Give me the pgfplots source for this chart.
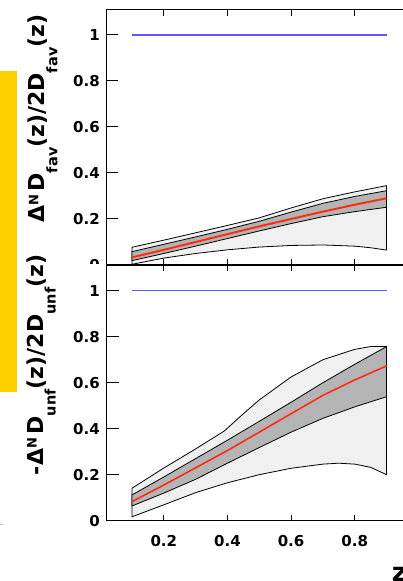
\documentclass[border=0pt]{standalone}
\usepackage{pgfplots}
\pgfplotsset{compat=1.18}
\usepackage{fontspec}
\setmainfont{DejaVu Sans}
\definecolor{goldbar}{RGB}{255,208,0}
\definecolor{lband}{RGB}{240,240,240}
\definecolor{dband}{RGB}{180,180,180}
\definecolor{cred}{RGB}{255,45,20}
\definecolor{cblue}{RGB}{90,90,255}
\newcommand{\labfont}{\fontsize{22}{22}\selectfont\bfseries}
\newcommand{\mysub}[1]{\raisebox{-12.5pt}{\fontsize{14.5}{14}\selectfont\bfseries #1}}
\newcommand{\mysup}[1]{\raisebox{6.5pt}{\fontsize{13}{13}\selectfont\bfseries #1}}
\pgfplotsset{panel/.style={
  scale only axis, width=311.9pt, height=255.3pt,
  xmin=0.02, xmax=1, ymin=0, ymax=1.11,
  xtick={0.2,0.4,0.6,0.8}, ytick={0,0.2,0.4,0.6,0.8,1},
  yticklabels={0,0.2,0.4,0.6,0.8,1},
  tick align=inside,
  major tick length=12pt,
  xtick style={/pgfplots/major tick length=6pt},
  axis line style={line width=1pt},
  every tick/.style={black, line width=1pt},
  tick label style={font=\fontsize{15}{18}\selectfont\bfseries},
  /pgf/number format/assume math mode=true,
  yticklabel style={inner sep=0pt, anchor=east, xshift=-6.5pt},
  xticklabel style={inner sep=0pt, anchor=north, yshift=-14pt},
  clip=false,
}}
\begin{document}
\begin{tikzpicture}
\fill[goldbar] (0pt,189pt) rectangle (17pt,510pt);
\fill[black!25] (0pt,55.5pt) rectangle (3pt,56.5pt);
% top panel
\begin{axis}[panel, at={(106.5pt,316pt)}, anchor=south west,
  xticklabels={},
  ylabel={\labfont Δ\mysup{N}\,D\mysub{fav}(z)/2D\mysub{fav}(z)},
  every axis y label/.style={at={(rel axis cs:0,0.164)}, xshift=-61.5pt, rotate=90, anchor=base west, inner sep=0pt},
]
\addplot[fill=lband, draw=black, line width=0.8pt] coordinates {
 (0.1,0.077) (0.2,0.108) (0.3,0.140) (0.4,0.172) (0.5,0.205) (0.6,0.248) (0.7,0.288) (0.8,0.318) (0.9,0.345)
 (0.9,0.065) (0.85,0.075) (0.8,0.082) (0.7,0.087) (0.6,0.085) (0.5,0.078) (0.4,0.066) (0.3,0.050) (0.2,0.030) (0.1,0.003)
} -- cycle;
\addplot[fill=dband, draw=black, line width=0.8pt] coordinates {
 (0.1,0.058) (0.2,0.090) (0.3,0.122) (0.4,0.155) (0.5,0.190) (0.6,0.230) (0.7,0.268) (0.8,0.298) (0.9,0.323)
 (0.9,0.251) (0.8,0.232) (0.7,0.210) (0.6,0.180) (0.5,0.148) (0.4,0.115) (0.3,0.082) (0.2,0.050) (0.1,0.019)
} -- cycle;
\addplot[cred, line width=2pt] coordinates {
 (0.1,0.033) (0.2,0.066) (0.3,0.100) (0.4,0.134) (0.5,0.168) (0.6,0.200) (0.7,0.232) (0.8,0.262) (0.9,0.290)
};
\addplot[cblue, line width=1.5pt] coordinates {(0.1,1) (0.9,1)};
\end{axis}
\fill[white] (75pt,295pt) rectangle (105.5pt,316.5pt);
% bottom panel
\begin{axis}[panel, at={(106.5pt,60.3pt)}, anchor=south west,
  xticklabels={0.2,0.4,0.6,0.8},
  ylabel={\labfont -Δ\mysup{N}\,D\mysub{unf}(z)/2D\mysub{unf}(z)},
  every axis y label/.style={at={(rel axis cs:0,0.178)}, xshift=-63.5pt, rotate=90, anchor=base west, inner sep=0pt},
]
\addplot[fill=lband, draw=black, line width=0.8pt] coordinates {
 (0.1,0.141) (0.2,0.229) (0.3,0.312) (0.39,0.390) (0.45,0.465) (0.5,0.525) (0.6,0.625) (0.7,0.700) (0.8,0.745) (0.85,0.757) (0.9,0.757)
 (0.9,0.200) (0.85,0.232) (0.8,0.246) (0.75,0.250) (0.7,0.246) (0.6,0.228) (0.5,0.200) (0.4,0.165) (0.3,0.122) (0.2,0.069) (0.1,0.017)
} -- cycle;
\addplot[fill=dband, draw=black, line width=0.8pt] coordinates {
 (0.1,0.112) (0.2,0.190) (0.3,0.270) (0.4,0.350) (0.5,0.432) (0.6,0.515) (0.7,0.600) (0.8,0.680) (0.9,0.757)
 (0.9,0.539) (0.8,0.495) (0.7,0.445) (0.6,0.385) (0.5,0.318) (0.4,0.250) (0.3,0.180) (0.2,0.120) (0.1,0.064)
} -- cycle;
\addplot[cred, line width=1.6pt] coordinates {
 (0.1,0.083) (0.2,0.155) (0.3,0.230) (0.4,0.305) (0.5,0.385) (0.6,0.465) (0.7,0.545) (0.8,0.612) (0.9,0.673)
};
\addplot[cblue, line width=1.5pt] coordinates {(0.1,1) (0.9,1)};
\end{axis}
\node[anchor=north west, inner sep=0pt, font=\fontsize{26}{26}\selectfont\bfseries] at (391.7pt,14.3pt) {z};
\pgfresetboundingbox
\path[use as bounding box] (0pt,0pt) rectangle (403pt,581pt);
\end{tikzpicture}
\end{document}
